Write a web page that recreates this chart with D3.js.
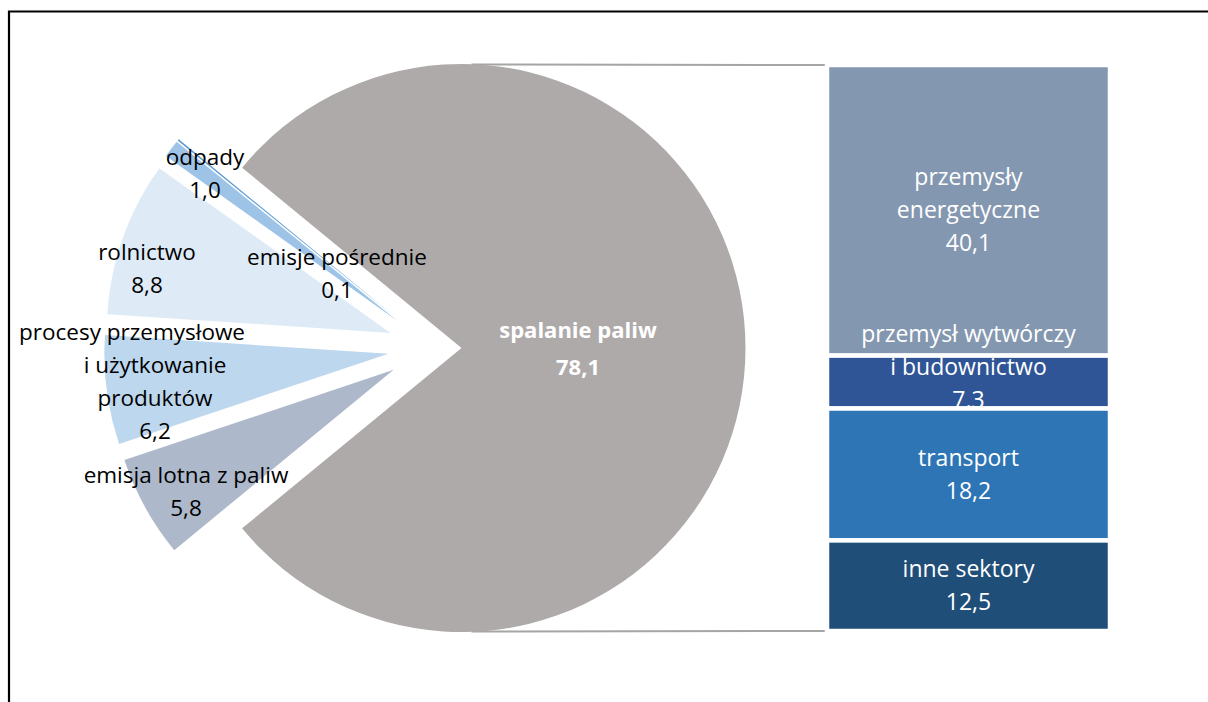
<!DOCTYPE html>
<html>
<head>
<meta charset="utf-8">
<script src="https://cdn.jsdelivr.net/npm/d3@7"></script>
<style>
  body { margin: 0; background: #fff; }
  svg { display: block; font-family: "Open Sans", sans-serif; }
</style>
</head>
<body>
<script>
// pie: first slice is the one split out into the bar
var pieCategories = [["spalanie paliw"], ["emisja lotna z paliw"],
    ["procesy przemysłowe", "i użytkowanie", "produktów"], ["rolnictwo"],
    ["odpady"], ["emisje pośrednie"]];
var pieValues = [78.1, 5.8, 6.2, 8.8, 1.0, 0.1];
var pieColors = ["#AEAAAA", "#ADB9CA", "#BDD7EE", "#DEEBF7", "#9DC3E6", "#5B9BD5"];

// bar: breakdown of "spalanie paliw"
var barCategories = [["przemysły", "energetyczne"], ["przemysł wytwórczy", "i budownictwo"],
    ["transport"], ["inne sektory"]];
var barValues = [40.1, 7.3, 18.2, 12.5];
var barColors = ["#8497B0", "#2F5597", "#2E75B6", "#1F4E79"];

// label anchors (centre x of line, centre y of first line)
var pieLabelPos = [{x: 578, y: 330}, {x: 186, y: 475}, {x: 155, y: 332, x0: 132},
    {x: 147, y: 252}, {x: 205, y: 157}, {x: 337, y: 257}];

var W = 1208, H = 702;
var cx = 433, cy = 348, R = 284;
var lineH = 33;

var fmt = function(v) { return d3.format(".1f")(v).replace(".", ","); };

var svg = d3.select("body").append("svg")
    .attr("width", W).attr("height", H);

// frame
svg.append("path")
    .attr("d", "M9," + H + "V11.5H" + W)
    .attr("fill", "none").attr("stroke", "#000").attr("stroke-width", 2.2);

var total = d3.sum(pieValues);
var start = Math.PI / 2 - Math.PI * pieValues[0] / total;

var pie = d3.pie().sort(null).value(function(d) { return d; })
    .startAngle(start).endAngle(start + 2 * Math.PI);
var arc = d3.arc().innerRadius(0).outerRadius(R);
var arcs = pie(pieValues);

function offset(a, i) {
    var e = i == 0 ? 28.5 : 45;
    var mid = (a.startAngle + a.endAngle) / 2;
    return [Math.sin(mid) * e, -Math.cos(mid) * e];
}

// connector lines from the gray slice to the bar
var barX0 = 827, barX1 = 1110;
var yBar = d3.scaleLinear().domain([0, d3.sum(barValues)]).range([65, 631]);
var gOff = offset(arcs[0], 0);
svg.append("line")
    .attr("x1", cx + gOff[0] + 10).attr("y1", cy - R + 0.5)
    .attr("x2", barX0 + 2).attr("y2", yBar(0))
    .attr("stroke", "#A5A5A5").attr("stroke-width", 2);
svg.append("line")
    .attr("x1", cx + gOff[0] + 10).attr("y1", cy + R - 0.5)
    .attr("x2", barX0 + 2).attr("y2", yBar(d3.sum(barValues)))
    .attr("stroke", "#A5A5A5").attr("stroke-width", 2);

var g = svg.append("g").attr("transform", "translate(" + cx + "," + cy + ")");
g.selectAll("path.slice").data(arcs).enter().append("path")
    .attr("class", "slice")
    .attr("transform", function(d, i) { return "translate(" + offset(d, i) + ")"; })
    .attr("d", arc)
    .attr("fill", function(d, i) { return pieColors[i]; });

// pie labels
pieCategories.forEach(function(lines, i) {
    var p = pieLabelPos[i];
    var all = lines.concat([fmt(pieValues[i])]);
    var t = svg.append("text")
        .attr("text-anchor", "middle")
        .attr("font-size", i == 0 ? 22 : 22.5)
        .attr("font-weight", i == 0 ? "bold" : "normal")
        .attr("fill", i == 0 ? "#fff" : "#000");
    all.forEach(function(s, k) {
        t.append("tspan")
            .attr("x", k == 0 && p.x0 ? p.x0 : p.x)
            .attr("y", p.y + k * (i == 0 ? 37 : lineH))
            .attr("dy", "0.35em")
            .text(s);
    });
});

// stacked bar, each label drawn before the next segment
var cum = 0;
var labelShift = [0, -15, 0, 0];
barValues.forEach(function(v, i) {
    var y0 = yBar(cum), y1 = yBar(cum + v);
    cum += v;
    svg.append("rect")
        .attr("x", barX0).attr("y", y0)
        .attr("width", barX1 - barX0).attr("height", y1 - y0)
        .attr("fill", barColors[i])
        .attr("stroke", "#fff").attr("stroke-width", 4.5);
    var all = barCategories[i].concat([fmt(v)]);
    var mid = (y0 + y1) / 2 + labelShift[i];
    var t = svg.append("text")
        .attr("text-anchor", "middle")
        .attr("font-size", 23)
        .attr("fill", "#fff");
    all.forEach(function(s, k) {
        t.append("tspan")
            .attr("x", (barX0 + barX1) / 2)
            .attr("y", mid + (k - (all.length - 1) / 2) * lineH)
            .attr("dy", "0.35em")
            .text(s);
    });
});
</script>
</body>
</html>
